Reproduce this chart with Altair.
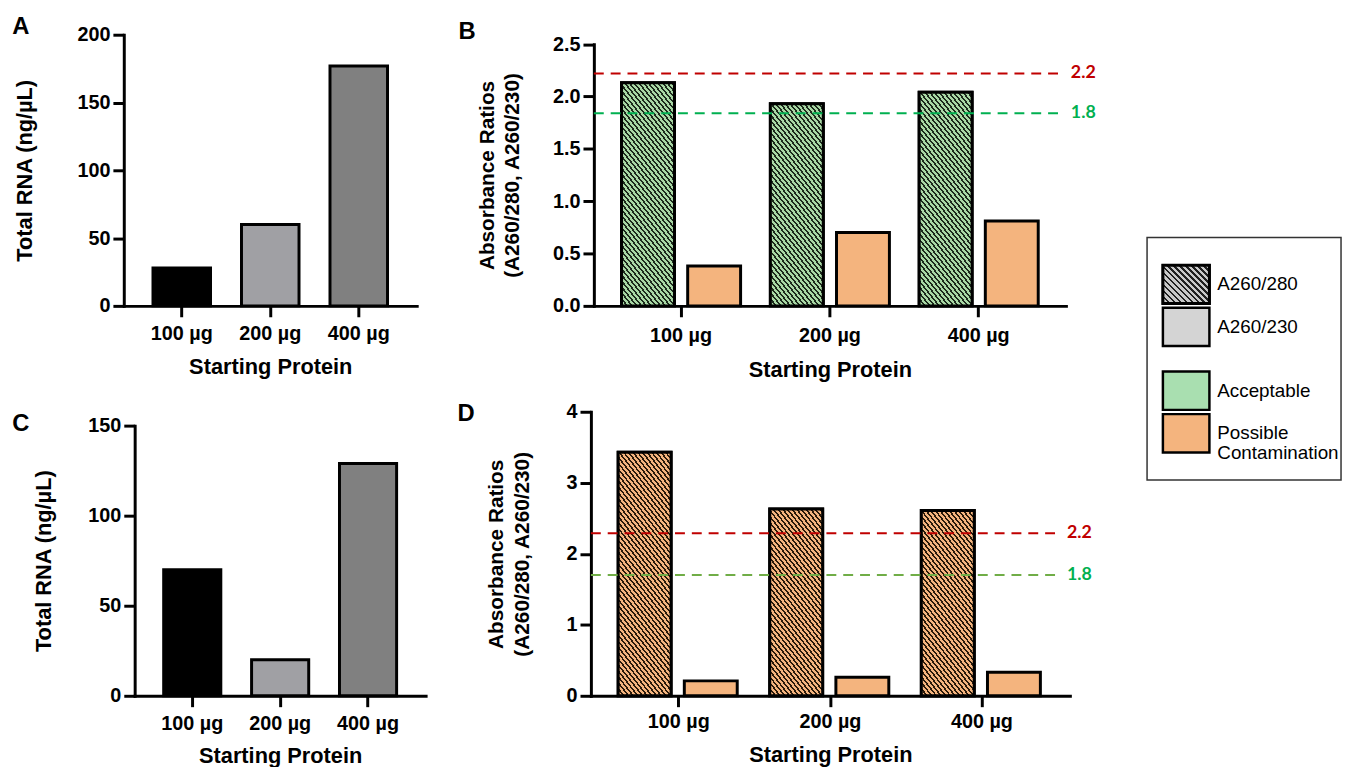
import altair as alt
import pandas as pd

# ---------------- data ----------------
categories = ["100 µg", "200 µg", "400 µg"]
total_rna_A = [28, 60, 177]
total_rna_C = [70, 20, 129]
series = ["A260/280", "A260/230"]
ratio_B_280 = [2.13, 1.93, 2.04]
ratio_B_230 = [0.38, 0.70, 0.81]
ratio_D_280 = [3.43, 2.63, 2.61]
ratio_D_230 = [0.21, 0.26, 0.33]
threshold_labels = ["2.2", "1.8"]
thresholds_B = [2.22, 1.84]
thresholds_D = [2.29, 1.70]
legend_labels = ["A260/280", "A260/230", "Acceptable", "Possible\nContamination"]
legend_groups = ["Ratio", "Ratio", "Quality", "Quality"]

# ---------------- styles ----------------
FONT = "Liberation Sans, Arial, sans-serif"
LFONT = "Lato, Open Sans, sans-serif"
GREY_BARS = ["#000000", "#A0A0A4", "#808080"]
GREEN = "#A9D8A5"
ORANGE = "#F4B47E"
RED_LINE = "#C00000"
GREEN_LINE_B = "#00B050"
GREEN_LINE_D = "#70AD47"
GREEN_TEXT = "#00B050"


def hatch(w, h, base, line, period=6.0, dark=0.42):
    """Diagonal (top-left to bottom-right) stripes as a bbox linear gradient."""
    k = (w + h) / (w * w + h * h)
    x2, y2 = k * w, 1 - k * h
    n = (w + h) / period
    step = 1.0 / n
    stops = []
    t = 0.0
    while t < 1 - 1e-9:
        a = min(t + dark * step, 1.0)
        b = min(t + step, 1.0)
        stops += [
            {"offset": round(t, 5), "color": line},
            {"offset": round(a, 5), "color": line},
            {"offset": round(a, 5), "color": base},
            {"offset": round(b, 5), "color": base},
        ]
        t += step
    return alt.LinearGradient(gradient="linear", stops=stops,
                              x1=0, y1=1, x2=round(x2, 5), y2=round(y2, 5))


def letter_layer(letter, lx, ly):
    return alt.Chart(pd.DataFrame({"t": [letter]})).mark_text(
        font=FONT, fontSize=24, fontWeight="bold", align="center",
        baseline="middle", color="black"
    ).encode(text="t:N", x=alt.value(lx), y=alt.value(ly))


def rna_panel(values, letter, ymax, yticks, width, height, letter_xy,
              lab_pad, x_title_pad, y_title_pad, xrange=None, yrange=None,
              y_offset=0):
    df = pd.DataFrame({"cat": categories, "val": values})
    xs_kw = dict(domain=categories, paddingInner=0.35, paddingOuter=0.33)
    if xrange is not None:
        xs_kw["range"] = xrange
    ys_kw = dict(domain=[0, ymax], nice=False)
    if yrange is not None:
        ys_kw["range"] = yrange
    bars = alt.Chart(df).mark_bar(stroke="black", strokeWidth=3).encode(
        x=alt.X("cat:N", sort=categories, scale=alt.Scale(**xs_kw),
                axis=alt.Axis(title="Starting Protein", labelAngle=0,
                              labelPadding=lab_pad, titlePadding=x_title_pad)),
        y=alt.Y("val:Q", scale=alt.Scale(**ys_kw),
                axis=alt.Axis(title="Total RNA (ng/µL)", values=yticks,
                              titlePadding=y_title_pad, offset=y_offset)),
        fill=alt.Fill("cat:N", scale=alt.Scale(domain=categories, range=GREY_BARS),
                      legend=None),
    )
    return alt.layer(bars, letter_layer(letter, *letter_xy)).properties(
        width=width, height=height)


def ratio_panel(v280, v230, hatch_base, hatch_line, thresholds, green_line,
                letter, ymax, yticks, yfmt, width, height, yrange, pad_outer,
                letter_xy, lab_pad, x_title_pad, y_title_pad, line_end, label_x):
    df = pd.DataFrame({
        "cat": categories * 2,
        "series": [s for s in series for _ in categories],
        "val": v280 + v230,
    })
    x = alt.X("cat:N", sort=categories,
              scale=alt.Scale(domain=categories, paddingInner=0.2, paddingOuter=pad_outer),
              axis=alt.Axis(title="Starting Protein", labelAngle=0,
                            labelPadding=lab_pad, titlePadding=x_title_pad))
    xo = alt.XOffset("series:N", sort=series,
                     scale=alt.Scale(domain=series, paddingInner=0.2, paddingOuter=0))
    y = alt.Y("val:Q", scale=alt.Scale(domain=[0, ymax], nice=False, range=yrange),
              axis=alt.Axis(title=["Absorbance Ratios", "(A260/280, A260/230)"],
                            values=yticks, format=yfmt, titlePadding=y_title_pad,
                            titleLineHeight=26, titleFontSize=21))
    base = alt.Chart(df).mark_bar(stroke="black", strokeWidth=3).encode(
        x=x, xOffset=xo, y=y,
        fill=alt.Fill("series:N", scale=alt.Scale(domain=series, range=[hatch_base, ORANGE]),
                      legend=None),
    )
    # pixel geometry of the hatched bars (for stripe spacing only)
    step = width / (3 - 0.2 + 2 * pad_outer)
    band = step * 0.8
    bar_w = band / 1.8
    px_per_unit = (yrange[0] - yrange[1]) / ymax
    layers = [base]
    for c, v in zip(categories, v280):
        g = hatch(bar_w, v * px_per_unit, hatch_base, hatch_line)
        layers.append(
            alt.Chart(df).transform_filter(
                (alt.datum.cat == c) & (alt.datum.series == series[0])
            ).mark_bar(stroke="black", strokeWidth=3, fill=g).encode(x=x, xOffset=xo, y=y)
        )
    th = pd.DataFrame({"val": thresholds, "label": threshold_labels})
    is_red = alt.datum.label == threshold_labels[0]
    rules = alt.Chart(th).mark_rule(strokeDash=[10, 7], strokeWidth=2).encode(
        y=alt.Y("val:Q"), x=alt.value(0), x2=alt.value(line_end),
        color=alt.condition(is_red, alt.value(RED_LINE), alt.value(green_line)),
    )
    labels = alt.Chart(th).mark_text(
        font=LFONT, fontSize=18, fontWeight="bold", align="left", baseline="middle"
    ).encode(
        y=alt.Y("val:Q"), x=alt.value(label_x), text="label:N",
        color=alt.condition(is_red, alt.value(RED_LINE), alt.value(GREEN_TEXT)),
    )
    layers += [rules, labels, letter_layer(letter, *letter_xy)]
    return alt.layer(*layers).properties(width=width, height=height)


# ---------------- panels ----------------
H1, H2 = 274, 287
pA = rna_panel(total_rna_A, "A", 200, [0, 50, 100, 150, 200], 296, H1,
               (-104, -8), 7, 13, 41)
pB = ratio_panel(ratio_B_280, ratio_B_230, GREEN, "#1C2A1C", thresholds_B, GREEN_LINE_B,
                 "B", 2.5, [0, 0.5, 1.0, 1.5, 2.0, 2.5], ".1f", 477, H1, [H1, 9.5], 0.186,
                 (-128, -3), 9, 14, 30, 476, 482)
pC = rna_panel(total_rna_C, "C", 150, [0, 50, 100, 150], 305, H2,
               (-104, 12.5), 7, 12, 33, xrange=[11, 305], yrange=[H2, 14], y_offset=-11)
pD = ratio_panel(ratio_D_280, ratio_D_230, ORANGE, "#2A1A0A", thresholds_D, GREEN_LINE_D,
                 "D", 4, [0, 1, 2, 3, 4], "d", 484, H2, [H2, 0], 0.18,
                 (-126, 2.5), 5, 13, 34, 471, 481)

# ---------------- legend ----------------
LH = 245
leg_df = pd.DataFrame({"label": legend_labels, "group": legend_groups})
ly = alt.Y("group:N", sort=["Ratio", "Quality"], axis=None,
           scale=alt.Scale(domain=["Ratio", "Quality"], paddingInner=0.2, paddingOuter=0.24))
lyo = alt.YOffset("rank:O", scale=alt.Scale(paddingInner=0.1, paddingOuter=0.05))
leg_base = alt.Chart(leg_df).transform_window(rank="row_number()", groupby=["group"])
swatch = leg_base.mark_rect(stroke="black", strokeWidth=2.5).encode(
    y=ly, yOffset=lyo, x=alt.value(16), x2=alt.value(63),
    fill=alt.Fill("label:N", scale=alt.Scale(domain=legend_labels,
                  range=["#C8C8C8", "#D4D4D4", "#A9DFB0", ORANGE]), legend=None),
)
sub_step = (LH / (2 - 0.2 + 0.48)) * 0.8 / 2.0
swatch_h = sub_step * 0.9
swatch_hatch = leg_base.transform_filter(alt.datum.label == legend_labels[0]).mark_rect(
    stroke="black", strokeWidth=3, fill=hatch(47, swatch_h, "#C8C8C8", "#202020")
).encode(y=ly, yOffset=lyo, x=alt.value(16), x2=alt.value(63))
leg_text = leg_base.mark_text(
    font=FONT, fontSize=19, align="left", baseline="middle", lineBreak="\n",
    lineHeight=20, color="black"
).encode(y=ly, yOffset=lyo, x=alt.value(71), text="label:N")
legend = alt.layer(swatch, swatch_hatch, leg_text).properties(
    width=196, height=LH, view=alt.ViewBackground(stroke="#333333", strokeWidth=1.5))

spacer = alt.Chart(pd.DataFrame({"t": [""]})).mark_text().encode(
    text="t:N").properties(width=1, height=194)

row1 = alt.hconcat(pA, pB, spacing=40).resolve_scale(fill="independent", color="independent")
row2 = alt.hconcat(pC, pD, spacing=30).resolve_scale(fill="independent", color="independent")
left = alt.vconcat(row1, row2, spacing=20).resolve_scale(fill="independent", color="independent")
right = alt.vconcat(spacer, legend, spacing=10).resolve_scale(fill="independent")

chart = alt.hconcat(left, right, spacing=50).resolve_scale(
    fill="independent", color="independent"
).properties(
    padding={"left": 3, "top": 2, "right": 2, "bottom": 0},
    background="white",
).configure_view(stroke="transparent").configure_axis(
    domainColor="black", domainWidth=3, domainCap="square",
    tickColor="black", tickWidth=3, tickSize=11,
    labelFont=FONT, labelFontSize=20, labelFontWeight="bold", labelColor="black",
    labelPadding=3,
    titleFont=FONT, titleFontSize=22, titleFontWeight="bold", titleColor="black",
    grid=False,
)

chart.save("out.html", embed_options={"renderer": "svg", "actions": False})
